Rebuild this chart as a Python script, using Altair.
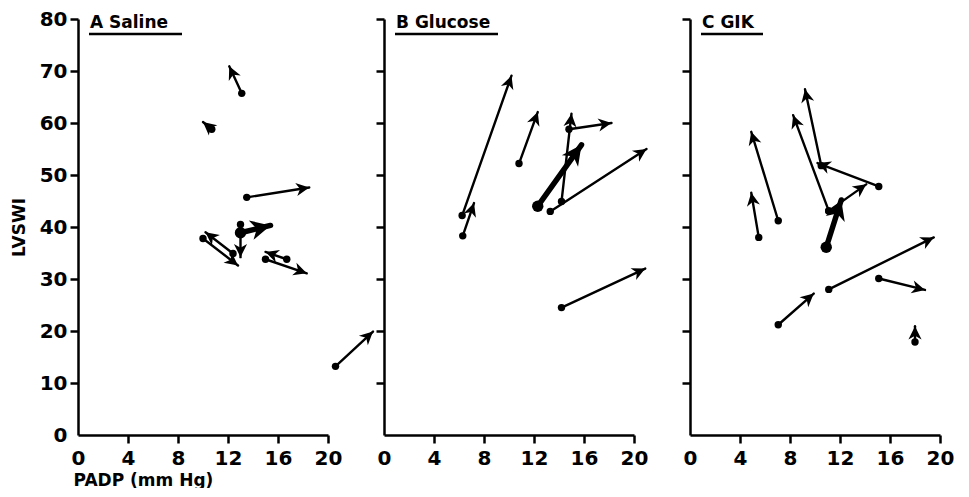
import altair as alt
import pandas as pd

# ---- data (PADP on x, LVSWI on y; arrow from start dot to arrow head) ----
panel = ["A"] * 10 + ["B"] * 8 + ["C"] * 11
x0 = [13.1, 10.7, 13.5, 13.0, 13.0, 10.0, 12.4, 16.7, 15.0, 20.6,
      6.25, 6.3, 10.8, 14.2, 14.8, 12.3, 13.3, 14.2,
      7.06, 5.5, 11.1, 10.5, 15.1, 11.1, 10.9, 11.1, 15.1, 18.0, 7.06]
y0 = [65.7, 58.8, 45.7, 40.5, 38.9, 37.8, 34.9, 33.8, 33.8, 13.2,
      42.2, 38.3, 52.2, 44.9, 58.8, 44.0, 43.0, 24.5,
      41.2, 38.0, 43.1, 51.8, 47.8, 43.1, 36.1, 28.0, 30.1, 17.9, 21.2]
x1 = [12.1, 10.0, 18.5, 13.0, 15.4, 12.8, 10.2, 15.0, 18.3, 23.6,
      10.2, 7.2, 12.3, 15.0, 18.2, 15.8, 21.0, 20.9,
      4.9, 4.9, 8.25, 9.2, 10.2, 14.1, 12.1, 19.5, 18.8, 18.0, 9.9]
y1 = [70.9, 60.2, 47.6, 34.2, 40.3, 32.6, 39.0, 35.2, 31.1, 19.9,
      69.1, 44.6, 62.1, 61.8, 60.0, 55.8, 55.0, 32.0,
      58.3, 46.6, 61.5, 66.5, 52.3, 48.2, 45.2, 38.0, 27.9, 20.9, 27.2]
kind = ["single"] * 4 + ["mean"] + ["single"] * 5 + \
       ["single"] * 5 + ["mean"] + ["single"] * 2 + \
       ["single"] * 6 + ["mean"] + ["single"] * 4

panel_ids = ["A", "B", "C"]
panel_titles = ["A  Saline", "B  Glucose", "C  GIK"]
x_ticks = [0, 4, 8, 12, 16, 20]
y_ticks = [0, 10, 20, 30, 40, 50, 60, 70, 80]

df = pd.DataFrame({"panel": panel, "x0": x0, "y0": y0, "x1": x1, "y1": y1, "kind": kind})

W, H = 250, 416
SX, SY = W / 20.0, H / 80.0
FONT = "DejaVu Sans"
ARROW = "M0,0 L0.6,1.2 L0,0.85 L-0.6,1.2 Z"
underline_len = {"A": 93, "B": 103, "C": 62}

kinds = ["single", "mean"]


def make_panel(i):
    pid = panel_ids[i]
    first = i == 0
    d = df[df["panel"] == pid]
    base = alt.Chart(d)
    xs = alt.Scale(domain=[0, 20], nice=False, zero=False)
    ys = alt.Scale(domain=[0, 80], nice=False, zero=False)
    xaxis = alt.Axis(
        values=x_ticks, grid=False, labelFlush=False, labelPadding=5,
        title="PADP (mm Hg)" if first else None,
        titleAnchor="start", titleAlign="left", titleX=-5, titleY=50,
        titleBaseline="alphabetic",
        tickOpacity={"expr": "datum.value == 0 ? 0 : 1"},
    )
    yaxis = alt.Axis(
        values=y_ticks, grid=False, labels=first, labelPadding=3,
        title="LVSWI" if first else None, titlePadding=11,
        tickOpacity={"expr": "datum.value == 0 ? 0 : 1"},
    )
    lines = base.mark_rule(color="black", strokeCap="round").encode(
        x=alt.X("x0:Q", scale=xs, axis=xaxis),
        y=alt.Y("y0:Q", scale=ys, axis=yaxis),
        x2="x1:Q",
        y2="y1:Q",
        strokeWidth=alt.StrokeWidth("kind:N", scale=alt.Scale(domain=kinds, range=[2.4, 5.5]), legend=None),
    )
    dots = base.mark_circle(color="black", opacity=1).encode(
        x="x0:Q", y="y0:Q",
        size=alt.Size("kind:N", scale=alt.Scale(domain=kinds, range=[55, 130]), legend=None),
    )
    heads = base.transform_calculate(
        angle=f"(atan2((datum.x1 - datum.x0) * {SX}, (datum.y1 - datum.y0) * {SY}) * 180 / PI + 360) % 360"
    ).mark_point(shape=ARROW, filled=True, color="black", opacity=1, strokeWidth=0).encode(
        x="x1:Q", y="y1:Q",
        angle=alt.Angle("angle:Q", scale=None),
        size=alt.Size("kind:N", scale=alt.Scale(domain=kinds, range=[480, 1100]), legend=None),
    )
    tdf = pd.DataFrame({"t": [panel_titles[i]]})
    title = alt.Chart(tdf).mark_text(
        align="left", baseline="alphabetic", font=FONT, fontSize=17, fontWeight="bold", color="black"
    ).encode(x=alt.value(12), y=alt.value(9), text="t:N")
    uline = alt.Chart(tdf).mark_rule(color="black", strokeWidth=2.5).encode(
        x=alt.value(11), x2=alt.value(11 + underline_len[pid]), y=alt.value(15)
    )
    return alt.layer(lines, dots, heads, title, uline).resolve_scale(size="independent").properties(
        width=W, height=H
    )


chart = alt.hconcat(*[make_panel(i) for i in range(3)], spacing=56, bounds="flush").properties(
    padding={"left": 2, "top": 1, "right": 5, "bottom": 0},
    background="white",
).configure_view(stroke=None).configure_axis(
    domainColor="black", domainWidth=2.5, tickColor="black", tickWidth=2.5, tickSize=8,
    labelFont=FONT, labelFontSize=20, labelFontWeight="bold", labelColor="black",
    titleFont=FONT, titleFontSize=17, titleFontWeight="bold", titleColor="black",
)

chart.save("out.html", embed_options={"renderer": "svg", "actions": False})
